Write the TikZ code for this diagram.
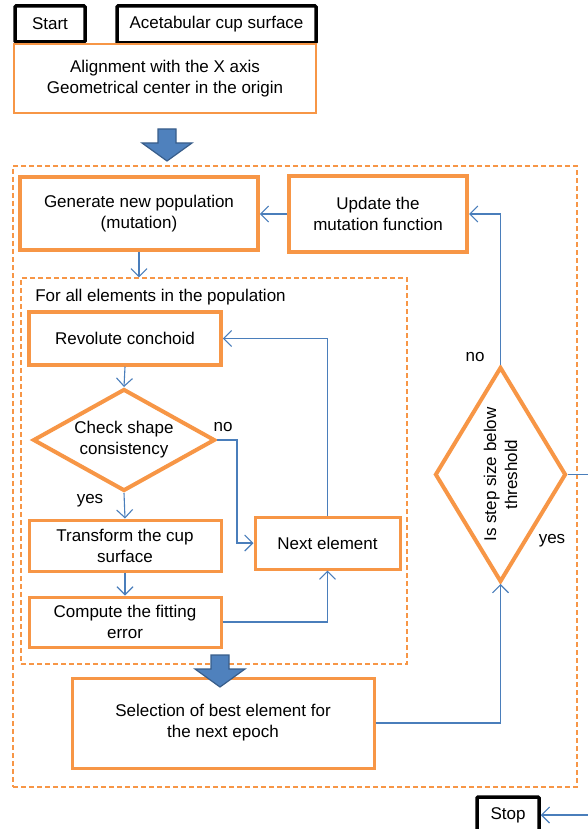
\documentclass[tikz,border=0pt]{standalone}
\usepackage{fontspec}
\setmainfont{Liberation Sans}
\usetikzlibrary{shapes.geometric,arrows.meta}

\definecolor{boxorange}{HTML}{F79646}
\definecolor{lineblue}{HTML}{4A7EBB}
\definecolor{arrowfill}{HTML}{4F81BD}
\definecolor{arrowdraw}{HTML}{385D8A}

\tikzset{
  termbox/.style={draw=black, line width=3.5pt, rounded corners=1pt, inner sep=0pt},
  stepbox/.style={draw=boxorange, line width=3pt, align=center, inner sep=0pt},
  test/.style={diamond, draw=boxorange, line width=4pt, align=center, inner sep=0pt},
  frame/.style={draw=boxorange, line width=1.3pt, dash pattern=on 5pt off 3pt, inner sep=0pt},
  flow/.style={draw=lineblue, line width=1.1pt, -{Straight Barb[length=8pt,width=16pt]}},
  bigarrow/.style={fill=arrowfill, draw=arrowdraw, line width=1.2pt, line join=miter},
  answer/.style={inner sep=0pt}
}

\begin{document}
\begin{tikzpicture}[x=1pt, y=-1pt, semithick, font=\fontsize{17}{21}\selectfont]
  \useasboundingbox (0,0) rectangle (588,829);

  % frames
  \node[frame, minimum width=564pt, minimum height=621pt] (epoch) at (295,476.5) {};
  \node[frame, minimum width=386pt, minimum height=386pt] (loop) at (214,471) {};
  \node[answer, anchor=west] (forall) at (35,297) {For all elements in the population};

  % boxes
  \node[termbox, minimum width=70pt, minimum height=36pt] (start) at (50,24) {Start};
  \node[termbox, minimum width=199pt, minimum height=37pt] (cup) at (216.5,24.5) {Acetabular cup surface};
  \node[stepbox, line width=2.5pt, minimum width=302pt, minimum height=69pt] (align) at (165,78.5)
    {Alignment with the X axis\\Geometrical center in the origin};
  \node[stepbox, line width=3.5pt, minimum width=238pt, minimum height=73pt] (gen) at (139,213.5)
    {Generate new population\\(mutation)};
  \node[stepbox, line width=4pt, minimum width=178pt, minimum height=76pt] (upd) at (378,214)
    {Update the\\mutation function};
  \node[stepbox, line width=3.5pt, minimum width=192pt, minimum height=53pt] (rev) at (125,338.5) {Revolute conchoid};
  \node[test, aspect=1.8, minimum width=182pt, minimum height=102pt] (chk) at (124,440)
    {Check shape\\consistency};
  \node[stepbox, minimum width=192pt, minimum height=51pt] (tra) at (125,545.5) {Transform the cup\\surface};
  \node[stepbox, minimum width=192pt, minimum height=50pt] (cmp) at (125,622) {Compute the fitting\\error};
  \node[stepbox, minimum width=145pt, minimum height=52pt] (next) at (327.5,543) {Next element};
  \node[stepbox, minimum width=302pt, minimum height=90pt] (sel) at (223,723)
    {Selection of best element for\\the next epoch};
  \node[test, rotate=90, aspect=1.64, minimum width=215pt, minimum height=131pt] (thr) at (500.5,474.5)
    {Is step size below\\threshold};
  \node[termbox, minimum width=62pt, minimum height=36pt] (stop) at (508,815) {Stop};

  % answers
  \node[answer] (chkno) at (223,427) {no};
  \node[answer] (chkyes) at (90,501) {yes};
  \node[answer] (thrno) at (475,357) {no};
  \node[answer] (thryes) at (552,541) {yes};

  % connectors (thr is turned: east = top, west = bottom, south = right)
  \draw[flow] (gen.south) -- (gen.south |- loop.north);
  \draw[flow] (upd.west) -- (upd.west -| gen.east);
  \draw[flow] (thr.east) |- (upd.east);
  \draw[flow] (rev.south) -- (chk.north);
  \draw[flow] (chk.east) -- ++(20,0) |- (next.west);
  \draw[flow] (chk.south) -- (tra.north);
  \draw[flow] (tra.south) -- (cmp.north);
  \draw[flow] (cmp.east) -| (next.south);
  \draw[flow] (next.north) |- (rev.east);
  \draw[flow] (sel.east) -| (thr.west);
  \draw[flow] (thr.south) -- ++(21,0) |- (stop.east);

  % block arrows
  \foreach \x/\y in {167/129, 220/655}
    \draw[bigarrow] (\x-9,\y) -- (\x+9,\y) -- (\x+9,\y+14) -- (\x+25,\y+14) -- (\x,\y+32)
      -- (\x-25,\y+14) -- (\x-9,\y+14) -- cycle;

\end{tikzpicture}
\end{document}
